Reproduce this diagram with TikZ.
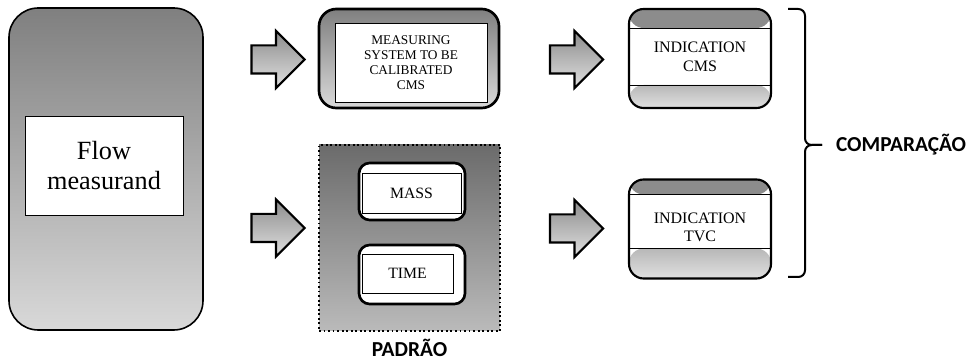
\documentclass[tikz,border=0pt]{standalone}
\usepackage{fontspec}
\setmainfont{Liberation Serif}
\newfontfamily\labelfont{Carlito}
\usetikzlibrary{positioning,shapes.arrows,calc}

\begin{document}
\begin{tikzpicture}[
  x=0.75pt, y=-0.75pt,
  outerbox/.style={draw, line width=2pt, rounded corners=#1,
    top color=black!50, bottom color=black!15},
  whitebox/.style={draw, line width=0.6pt, fill=white, align=center},
  roundwhite/.style={draw, line width=2pt, rounded corners=8pt, fill=white,
    minimum width=79.5pt},
  flowarrow/.style={single arrow, draw, line width=1.6pt, inner xsep=0pt,
    inner ysep=9.75pt, minimum height=39.75pt, minimum width=41.25pt,
    single arrow head extend=10.9pt, top color=black!45, bottom color=black!12},
  indbox/.style 2 args={draw, line width=1.6pt, rounded corners=11pt, fill=white,
    minimum width=106.5pt, minimum height=74.25pt, align=center,
    font=\fontsize{12}{13.75}\selectfont,
    path picture={
      \fill[black!45] (path picture bounding box.north west)
        rectangle ([yshift=-#1]path picture bounding box.north east);
      \shade[top color=black!28, bottom color=black!12]
        ([yshift=#2]path picture bounding box.south west)
        rectangle (path picture bounding box.south east);
      \draw[line width=0.5pt] ([yshift=-#1]path picture bounding box.north west)
        -- ([yshift=-#1]path picture bounding box.north east);
      \draw[line width=0.5pt] ([yshift=#2]path picture bounding box.south west)
        -- ([yshift=#2]path picture bounding box.south east);
    }},
  tag/.style={font=\labelfont\bfseries\fontsize{16}{19}\selectfont},
]
  \useasboundingbox (0,0) rectangle (971,363);

  % source
  \node[outerbox=22pt, line width=1.2pt, minimum width=145.5pt,
    minimum height=241.5pt] (flow) at (106,169) {};
  \node[whitebox, minimum width=118.5pt, minimum height=74.25pt,
    font=\fontsize{19.7}{22.5}\selectfont] (flowtxt) at (104,165.5) {Flow\\measurand};

  % block arrows
  \node[flowarrow] (arrowcms)  at (271,59.5)  {};
  \node[flowarrow] (arrowstd)  at (271,228)   {};
  \node[flowarrow] (arrowicms) at (569.5,59.5) {};
  \node[flowarrow] (arrowitvc) at (569.5,228.5) {};

  % system to be calibrated
  \node[outerbox=13pt, minimum width=135pt, minimum height=74.25pt] (cms) at (409,58.5) {};
  \node[whitebox, minimum width=114pt, minimum height=59.25pt,
    font=\fontsize{10}{11.25}\selectfont] (cmstxt) at (411,62.5)
    {MEASURING\\SYSTEM TO BE\\CALIBRATED\\CMS};

  % standard
  \node[draw, dotted, line width=1.4pt, minimum width=135.75pt, minimum height=139.5pt,
    top color=black!58, bottom color=black!27] (padrao) at (409.5,238) {};
  \node[roundwhite, minimum height=42.75pt] (mass) at (412,191.5) {};
  \node[whitebox, minimum width=74.25pt, minimum height=30pt,
    font=\fontsize{11.8}{13}\selectfont] (masstxt) at (411.5,193) {MASS};
  \node[roundwhite, minimum height=44.25pt] (time) at (412,274.5) {};
  \node[whitebox, minimum width=68.25pt, minimum height=29.25pt,
    font=\fontsize{11.8}{13}\selectfont] (timetxt) at (407.5,273.5) {TIME};
  \node[tag, below=1.5pt of padrao] (padraolbl) {PADRÃO};

  % indications
  \node[indbox={14.25pt}{17.25pt}] (indcms) at (700,58.5)
    {\raisebox{1.5pt}{\begin{tabular}{@{}c@{}}INDICATION\\CMS\end{tabular}}};
  \node[indbox={11.25pt}{22.5pt}] (indtvc) at (700,229)
    {\raisebox{5pt}{\begin{tabular}{@{}c@{}}INDICATION\\TVC\end{tabular}}};

  % comparison bracket
  \coordinate (btop) at (788,9);
  \coordinate (bbot) at (788,277);
  \coordinate (btip) at (822,145);
  \draw[line width=1.5pt, rounded corners=5pt] (btop) -- (805,9) -- (805,145) -- (btip);
  \draw[line width=1.5pt, rounded corners=5pt] (btip) -- (805,145) -- (805,277) -- (bbot);
  \node[tag, right=7pt of btip] (comparacao) {COMPARAÇÃO};
\end{tikzpicture}
\end{document}
